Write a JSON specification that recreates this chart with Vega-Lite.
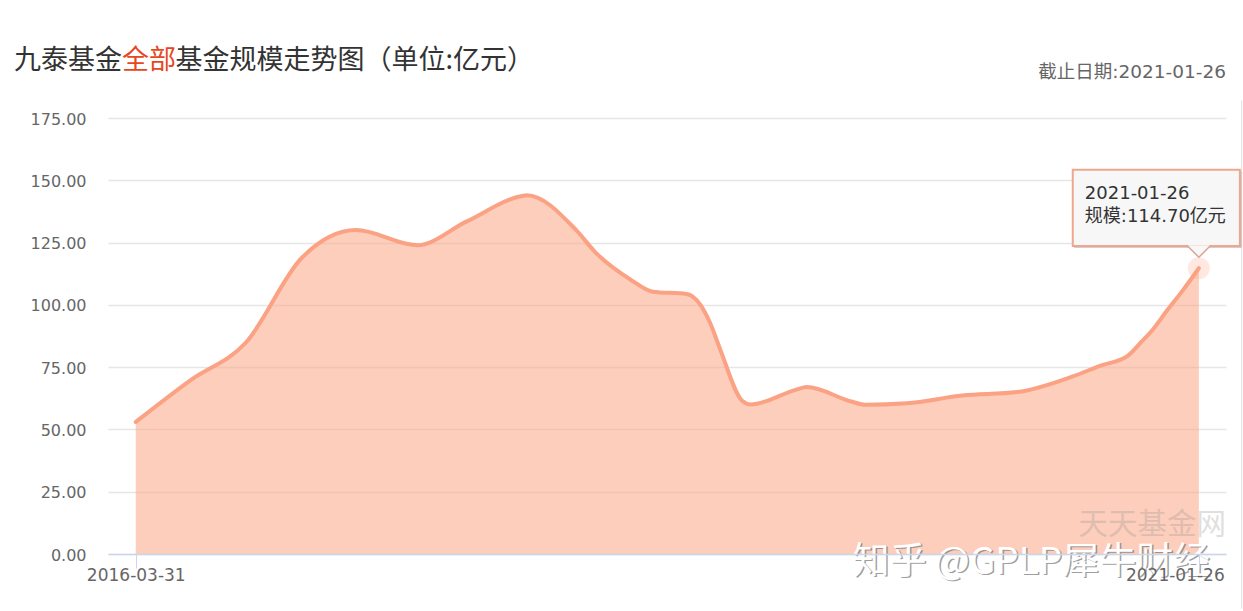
{
  "$schema": "https://vega.github.io/schema/vega-lite/v6.json",
  "width": 1118,
  "height": 436,
  "autosize": {"type": "none"},
  "padding": {"left": 108, "top": 118, "right": 17, "bottom": 57},
  "background": "#ffffff",
  "config": {"view": {"stroke": null}, "text": {"font": "Noto Sans CJK SC"}, "axis": {"labelFont": "DejaVu Sans"}},
  "datasets": {
    "scale": [
      {"date": "2016-03-31", "value": 53},
      {"date": "2016-06-30", "value": 69.8},
      {"date": "2016-09-30", "value": 85},
      {"date": "2016-12-31", "value": 118.8},
      {"date": "2017-03-31", "value": 130},
      {"date": "2017-06-30", "value": 124.2},
      {"date": "2017-07-10", "value": 123.9},
      {"date": "2017-09-30", "value": 133.4},
      {"date": "2017-12-31", "value": 143.7},
      {"date": "2018-01-08", "value": 144},
      {"date": "2018-03-31", "value": 130},
      {"date": "2018-05-01", "value": 121.3},
      {"date": "2018-06-30", "value": 110},
      {"date": "2018-08-05", "value": 105.3},
      {"date": "2018-09-30", "value": 104.4},
      {"date": "2018-10-23", "value": 100},
      {"date": "2018-11-08", "value": 92.7},
      {"date": "2018-11-25", "value": 81.9},
      {"date": "2018-12-31", "value": 61.5},
      {"date": "2019-01-14", "value": 60},
      {"date": "2019-03-31", "value": 66},
      {"date": "2019-04-17", "value": 67},
      {"date": "2019-06-30", "value": 61.2},
      {"date": "2019-07-23", "value": 59.9},
      {"date": "2019-09-30", "value": 60.5},
      {"date": "2019-12-31", "value": 63.6},
      {"date": "2020-03-31", "value": 65},
      {"date": "2020-06-30", "value": 71.2},
      {"date": "2020-08-15", "value": 75.5},
      {"date": "2020-09-30", "value": 79.5},
      {"date": "2020-10-23", "value": 85.2},
      {"date": "2020-11-08", "value": 89.3},
      {"date": "2020-12-03", "value": 97.3},
      {"date": "2020-12-31", "value": 106},
      {"date": "2021-01-26", "value": 114.7}
    ]
  },
  "data": {"name": "scale"},
  "encoding": {
    "x": {
      "field": "date",
      "type": "temporal",
      "title": null,
      "scale": {"type": "utc", "domain": [{"year": 2016, "month": 2, "date": 14, "utc": true}, {"year": 2021, "month": 3, "date": 12, "utc": true}]},
      "axis": {
        "values": [1459382400000, 1611619200000],
        "labelExpr": "utcFormat(datum.value,'%Y-%m-%d')",
        "grid": false,
        "zindex": 1,
        "domainColor": "#ccd6eb",
        "domainWidth": 1.5,
        "tickColor": "#ccd6eb",
        "tickSize": 14,
        "labelFontSize": 17,
        "labelColor": "#666666",
        "labelPadding": -1,
        "labelFlush": false,
        "labelOverlap": false,
        "labelBound": false,
        "labelOffset": {"condition": {"test": "datum.value > 1500000000000", "value": -24}, "value": 0}
      }
    },
    "y": {
      "field": "value",
      "type": "quantitative",
      "title": null,
      "scale": {"domain": [0, 175], "nice": false, "zero": true},
      "axis": {
        "values": [0, 25, 50, 75, 100, 125, 150, 175],
        "format": ".2f",
        "domain": false,
        "ticks": false,
        "grid": true,
        "gridColor": "#e6e6e6",
        "gridWidth": 1.5,
        "labelFontSize": 16,
        "labelColor": "#666666",
        "labelPadding": 22,
        "labelOffset": 1
      }
    }
  },
  "layer": [
    {"mark": {"type": "area", "interpolate": "monotone", "color": "#fba583", "opacity": 0.55}},
    {"mark": {"type": "line", "interpolate": "monotone", "color": "#faa283", "strokeWidth": 4, "strokeCap": "round"}},
    {
      "data": {"values": [{"date": "2021-01-26", "value": 114.7}]},
      "mark": {"type": "point", "shape": "circle", "filled": true, "color": "#fba583", "opacity": 0.25, "size": 484}
    },
    {
      "data": {"values": [{"date": "2021-04-07", "value": 182, "value2": -22}]},
      "mark": {"type": "rule", "color": "#e4e4e4", "strokeWidth": 1.2, "clip": false},
      "encoding": {"y2": {"field": "value2"}}
    },
    {
      "data": {"values": [{"date": "2020-07-03", "date2": "2021-04-07", "value": 153.6, "value2": 122.8}]},
      "mark": {"type": "rect", "color": "#888888", "opacity": 0.4, "clip": false},
      "encoding": {"x2": {"field": "date2"}, "y2": {"field": "value2"}}
    },
    {
      "data": {"values": [{"date": "2020-07-01", "date2": "2021-04-04", "value": 154.2, "value2": 123.6}]},
      "mark": {"type": "rect", "fill": "#f7f7f7", "stroke": "#f0a68e", "strokeWidth": 2, "clip": false},
      "encoding": {"x2": {"field": "date2"}, "y2": {"field": "value2"}}
    },
    {
      "data": {"values": [{"date": "2021-01-26", "value": 123.9}]},
      "mark": {"type": "point", "shape": "M-1,0L0,1L1,0", "filled": true, "fill": "#f7f7f7", "stroke": "#d9a594", "strokeOpacity": 1, "fillOpacity": 1, "strokeWidth": 1.5, "size": 576, "opacity": 1}
    },
    {
      "data": {"values": [{"date": "2020-07-21", "value": 144.4, "label": "2021-01-26"}, {"date": "2020-07-21", "value": 135.2, "label": "规模:114.70亿元"}]},
      "mark": {"type": "text", "align": "left", "baseline": "middle", "fontSize": 18, "color": "#333333", "font": "DejaVu Sans, Noto Sans CJK SC"},
      "encoding": {"text": {"field": "label"}}
    },
    {
      "data": {"values": [{"date": "2015-09-11", "value": 197.9, "label": "九泰基金"}, {"date": "2016-06-05", "value": 197.9, "label": "基金规模走势图（单位:亿元）"}]},
      "mark": {"type": "text", "align": "left", "baseline": "middle", "fontSize": 27, "color": "#333333"},
      "encoding": {"text": {"field": "label"}}
    },
    {
      "data": {"values": [{"date": "2016-03-08", "value": 197.9, "label": "全部"}]},
      "mark": {"type": "text", "align": "left", "baseline": "middle", "fontSize": 27, "color": "#e8471d"},
      "encoding": {"text": {"field": "label"}}
    },
    {
      "data": {"values": [{"date": "2021-03-12", "value": 193.3, "label": "截止日期:2021-01-26"}]},
      "mark": {"type": "text", "align": "right", "baseline": "middle", "fontSize": 18.5, "color": "#666666", "font": "DejaVu Sans, Noto Sans CJK SC"},
      "encoding": {"text": {"field": "label"}}
    },
    {
      "data": {"values": [{"date": "2021-03-12", "value": 11.6, "label": "天天基金网"}]},
      "mark": {"type": "text", "align": "right", "baseline": "middle", "fontSize": 29.5, "color": "#999999", "opacity": 0.3},
      "encoding": {"text": {"field": "label"}}
    },
    {
      "data": {"values": [{"date": "2019-07-02", "value": -3.6, "label": "知乎 @GPLP犀牛财经"}]},
      "mark": {"type": "text", "align": "left", "baseline": "middle", "fontSize": 37, "color": "#777777", "opacity": 0.7, "dx": 1.5, "dy": 1.5},
      "encoding": {"text": {"field": "label"}}
    },
    {
      "data": {"values": [{"date": "2019-07-02", "value": -3.6, "label": "知乎 @GPLP犀牛财经"}]},
      "mark": {"type": "text", "align": "left", "baseline": "middle", "fontSize": 37, "color": "#ffffff"},
      "encoding": {"text": {"field": "label"}}
    }
  ]
}
